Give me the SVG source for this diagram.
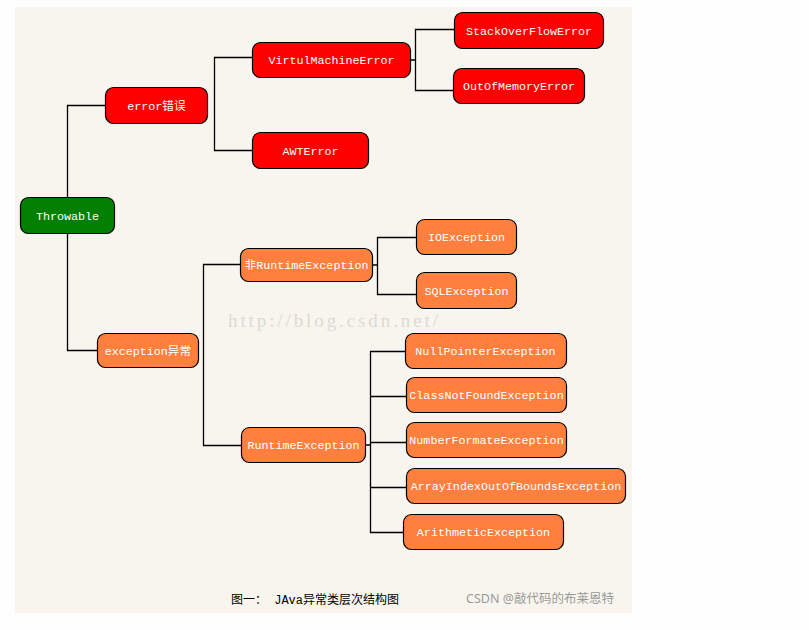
<svg xmlns="http://www.w3.org/2000/svg" width="809" height="630" viewBox="0 0 809 630">
<style>
.n rect{stroke:#000;stroke-width:1.2}
.red rect{fill:#FF0000}
.org rect{fill:#FF7F3F}
.grn rect{fill:#007F00}
.n text{fill:#fff;font-family:"Liberation Mono","Noto Sans CJK SC",monospace;font-size:11.7px;text-anchor:middle}
#connectors path{fill:none;stroke:#000;stroke-width:1.3}
</style>
<rect x="0" y="0" width="809" height="630" fill="#fefefe"/>
<rect x="15" y="7" width="617" height="606" fill="#F8F5EF"/>
<text x="228" y="327" font-family="Liberation Serif,serif" font-size="19" fill="#dcdad4" textLength="210" lengthAdjust="spacing">http://blog.csdn.net/</text>
<g id="connectors">
<path d="M105,105.5H67.5V215"/>
<path d="M67.5,233V350.5H97"/>
<path d="M252,57.5H214.5V150.5H252"/>
<path d="M454,29.5H415.5V90.5H453 M411,60H415.5"/>
<path d="M240,264.5H203.5V445.5H241"/>
<path d="M416,237.5H377.5V294.5H416 M373,265H377.5"/>
<path d="M405,351.5H370.5V532.5H403 M370.5,396.5H406 M370.5,442.5H406 M370.5,487.5H406 M366,445H370.5"/>
</g>
<g id="throwable" class="n grn"><rect x="20.5" y="197.5" width="94" height="36" rx="8"/><text x="67.5" y="219.5">Throwable</text></g>
<g id="error" class="n red"><rect x="105.5" y="87.5" width="102" height="36" rx="8"/><text x="156.5" y="109.5">error错误</text></g>
<g id="vme" class="n red"><rect x="252.5" y="42.5" width="158" height="35" rx="8"/><text x="331.5" y="64">VirtulMachineError</text></g>
<g id="awt" class="n red"><rect x="252.5" y="132.5" width="116" height="36" rx="8"/><text x="310.5" y="154.5">AWTError</text></g>
<g id="sof" class="n red"><rect x="454.5" y="12.5" width="149" height="36" rx="8"/><text x="529" y="34.5">StackOverFlowError</text></g>
<g id="oom" class="n red"><rect x="453.5" y="68.5" width="131" height="35" rx="8"/><text x="519" y="90">OutOfMemoryError</text></g>
<g id="exception" class="n org"><rect x="97.5" y="333.5" width="101" height="34" rx="8"/><text x="148" y="354.5">exception异常</text></g>
<g id="nonruntime" class="n org"><rect x="240.5" y="248.5" width="132" height="33" rx="8"/><text x="306.5" y="269">非RuntimeException</text></g>
<g id="ioexception" class="n org"><rect x="416.5" y="219.5" width="100" height="35" rx="8"/><text x="466.5" y="241">IOException</text></g>
<g id="sqlexception" class="n org"><rect x="416.5" y="272.5" width="100" height="36" rx="8"/><text x="466.5" y="294.5">SQLException</text></g>
<g id="runtime" class="n org"><rect x="241.5" y="427.5" width="124" height="35" rx="8"/><text x="303.5" y="449">RuntimeException</text></g>
<g id="npe" class="n org"><rect x="405.5" y="333.5" width="161" height="35" rx="8"/><text x="485.5" y="355">NullPointerException</text></g>
<g id="cnfe" class="n org"><rect x="406.5" y="377.5" width="160" height="35" rx="8"/><text x="486.5" y="399">ClassNotFoundException</text></g>
<g id="nfe" class="n org"><rect x="406.5" y="422.5" width="160" height="35" rx="8"/><text x="486.5" y="444">NumberFormateException</text></g>
<g id="aioobe" class="n org"><rect x="406.5" y="468.5" width="219" height="35" rx="8"/><text x="516" y="490">ArrayIndexOutOfBoundsException</text></g>
<g id="ae" class="n org"><rect x="403.5" y="514.5" width="160" height="35" rx="8"/><text x="483.5" y="536">ArithmeticException</text></g>
<text x="231" y="604" font-family="Liberation Mono,'Noto Sans CJK SC',monospace" font-size="12" fill="#000">图一： JAva异常类层次结构图</text>
<text x="466" y="603" font-family="'Noto Sans','Noto Sans CJK SC',sans-serif" font-size="12.5" fill="#9a9a9a">CSDN @敲代码的布莱恩特</text>
</svg>
